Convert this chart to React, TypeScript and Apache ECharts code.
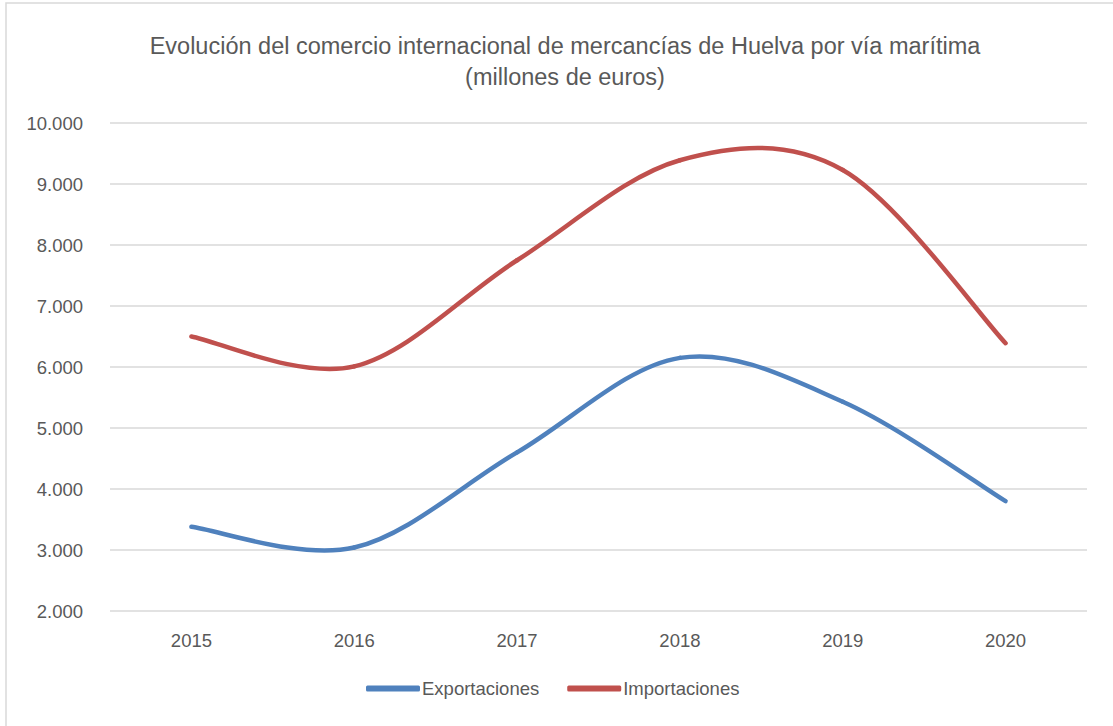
import React, { useEffect, useRef } from "react";
import * as echarts from "echarts";

const years = ["2015", "2016", "2017", "2018", "2019", "2020"];
const exportaciones = [3380, 3040, 4600, 6150, 5430, 3800];
const importaciones = [6500, 6010, 7750, 9390, 9230, 6390];
const yMin = 2000;
const yMax = 10000;
const yStep = 1000;

const fmt = (v: number) => {
  const s = String(Math.round(v));
  return s.replace(/\B(?=(\d{3})+(?!\d))/g, ".");
};

const FONT = "'Liberation Sans', Arial, sans-serif";

function smoothSeries(name: string, values: number[], color: string) {
  return {
    name,
    type: "custom",
    data: values.map((v, i) => [i, v]),
    encode: { x: 0, y: 1 },
    clip: false,
    itemStyle: { color },
    renderItem: (params: any, api: any) => {
      const i = params.dataIndex;
      const n = values.length;
      if (i >= n - 1) return null;
      const p = (k: number) => {
        const kk = Math.max(0, Math.min(n - 1, k));
        return api.coord([kk, values[kk]]);
      };
      const p0 = p(i - 1);
      const p1 = p(i);
      const p2 = p(i + 1);
      const p3 = p(i + 2);
      return {
        type: "bezierCurve",
        shape: {
          x1: p1[0],
          y1: p1[1],
          x2: p2[0],
          y2: p2[1],
          cpx1: p1[0] + (p2[0] - p0[0]) / 6,
          cpy1: p1[1] + (p2[1] - p0[1]) / 6,
          cpx2: p2[0] - (p3[0] - p1[0]) / 6,
          cpy2: p2[1] - (p3[1] - p1[1]) / 6,
        },
        style: { stroke: color, fill: "none", lineWidth: 4.5, lineCap: "round" },
      };
    },
  };
}

export default function App() {
  const ref = useRef<HTMLDivElement>(null);
  useEffect(() => {
    const chart = echarts.init(ref.current!, null, { renderer: "svg" });
    chart.setOption({
      animation: false,
      backgroundColor: "#ffffff",
      textStyle: { fontFamily: FONT },
      title: {
        text: "Evolución del comercio internacional de mercancías de Huelva por vía marítima\n(millones de euros)",
        left: 560,
        textAlign: "center",
        top: 25,
        textStyle: { fontSize: 23.5, fontWeight: "normal", color: "#595959", lineHeight: 31, fontFamily: FONT },
      },
      graphic: [
        {
          type: "rect",
          shape: { x: 6, y: 3, width: 1120, height: 740 },
          style: { fill: "none", stroke: "#d9d9d9", lineWidth: 1.5 },
          silent: true,
        },
      ],
      legend: {
        bottom: 23,
        left: 361,
        itemWidth: 54,
        itemHeight: 6,
        itemGap: 28,
        textStyle: { fontSize: 18.5, color: "#595959", fontFamily: FONT, padding: [0, 0, 0, -3] },
        data: [
          { name: "Exportaciones", icon: "roundRect", itemStyle: { color: "#4F81BD" } },
          { name: "Importaciones", icon: "roundRect", itemStyle: { color: "#C0504D" } },
        ],
      },
      grid: { left: 110, right: 26, top: 123, bottom: 115 },
      xAxis: {
        type: "category",
        data: years,
        boundaryGap: true,
        axisLine: { show: false },
        axisTick: { show: false },
        axisLabel: { fontSize: 18.5, color: "#595959", margin: 20, fontFamily: FONT },
      },
      yAxis: {
        type: "value",
        min: yMin,
        max: yMax,
        interval: yStep,
        axisLine: { show: false },
        axisTick: { show: false },
        axisLabel: { fontSize: 18.5, color: "#595959", margin: 27, formatter: (v: number) => fmt(v), fontFamily: FONT },
        splitLine: { lineStyle: { color: "#d9d9d9", width: 1.5 } },
      },
      series: [
        smoothSeries("Exportaciones", exportaciones, "#4F81BD"),
        smoothSeries("Importaciones", importaciones, "#C0504D"),
      ],
    });
    return () => chart.dispose();
  }, []);
  return (
    <div
      ref={ref}
      style={{ position: "fixed", left: 0, top: 0, width: 1113, height: 726 }}
    />
  );
}
